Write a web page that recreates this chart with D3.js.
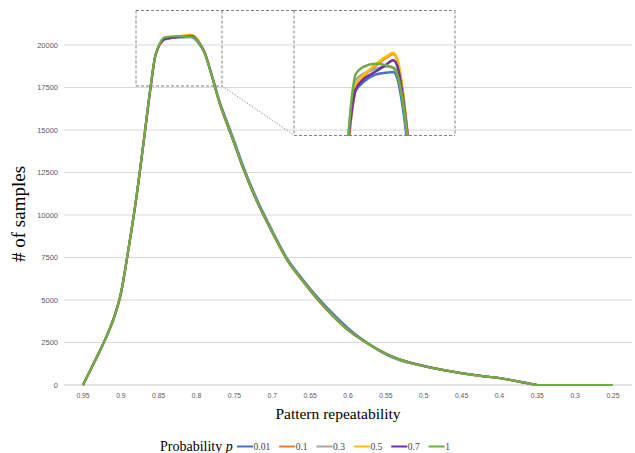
<!DOCTYPE html>
<html><head><meta charset="utf-8">
<script src="https://cdn.jsdelivr.net/npm/d3@7"></script>
<style>body{margin:0;background:#fff}svg{display:block}</style>
</head><body>
<svg id="c" width="635" height="453"></svg>
<script>
const xs = [0.95,0.94,0.93,0.92,0.91,0.90,0.89,0.88,0.87,0.86,0.855,0.85,0.846,0.843,0.835,0.825,0.815,0.808,0.804,0.800,0.796,0.79,0.78,0.77,0.76,0.75,0.74,0.72,0.70,0.68,0.66,0.64,0.62,0.60,0.58,0.56,0.54,0.52,0.50,0.48,0.46,0.44,0.42,0.40,0.38,0.36,0.35,0.30,0.25];
const p001 = [0,890,1790,2740,3830,5350,7950,10850,14250,17750,19250,19930,20210,20320,20390,20440,20455,20460,20410,20250,20020,19570,18250,16750,15520,14330,13070,10900,9080,7420,6230,5150,4200,3350,2650,2040,1590,1310,1110,925,765,625,505,405,245,78,0,0,0];
const p01  = [0,895,1795,2745,3840,5380,7970,10860,14260,17740,19240,19900,20180,20330,20430,20500,20560,20590,20540,20370,20110,19640,18220,16640,15380,14180,12930,10780,8980,7330,6130,5030,4060,3240,2610,2080,1645,1345,1120,935,770,630,510,410,250,80,0,0,0];
const p03  = [0,900,1800,2750,3845,5390,7990,10890,14290,17780,19280,19940,20270,20400,20450,20480,20500,20495,20450,20300,20070,19610,18210,16660,15410,14210,12960,10810,9010,7360,6160,5060,4090,3260,2625,2080,1640,1340,1120,930,770,630,510,410,250,80,0,0,0];
const p05  = [0,895,1790,2740,3835,5370,7960,10850,14250,17730,19230,19900,20200,20360,20440,20510,20570,20600,20550,20380,20120,19650,18230,16640,15370,14170,12920,10770,8970,7320,6120,5020,4050,3230,2605,2075,1640,1340,1115,930,768,628,508,408,248,79,0,0,0];
const p07  = [0,905,1805,2755,3855,5400,7990,10870,14270,17760,19260,19920,20200,20330,20410,20460,20510,20545,20500,20340,20100,19630,18220,16650,15390,14190,12940,10790,8990,7340,6140,5040,4070,3245,2615,2080,1645,1345,1125,935,772,632,512,412,252,81,0,0,0];
const p1   = [0,900,1800,2750,3850,5400,8000,10900,14300,17800,19300,19950,20300,20440,20500,20520,20510,20490,20440,20300,20080,19600,18200,16650,15400,14200,12950,10800,9000,7350,6150,5050,4080,3250,2620,2080,1640,1340,1120,930,770,630,510,410,250,80,0,0,0];
const seriesNames = ["0.01","0.1","0.3","0.5","0.7","1"];
const seriesValues = [p001,p01,p03,p05,p07,p1];
const colors = ["#4472C4","#ED7D31","#A5A5A5","#FFC000","#7030A0","#70AD47"];
const xTicks = [0.95,0.9,0.85,0.8,0.75,0.7,0.65,0.6,0.55,0.5,0.45,0.4,0.35,0.3,0.25];
const yTicks = [0,2500,5000,7500,10000,12500,15000,17500,20000];

const svg = d3.select("#c");
const x = d3.scaleLinear().domain([0.95,0.25]).range([83,613]);
const y = d3.scaleLinear().domain([0,20000]).range([385,45]);
const gridL = 64, gridR = 632;

svg.append("g").selectAll("line").data(yTicks).join("line")
  .attr("x1",gridL).attr("x2",gridR)
  .attr("y1",d=>y(d)).attr("y2",d=>y(d))
  .attr("stroke","#d9d9d9").attr("stroke-width",d=>d===0?1.5:1);

svg.append("g").selectAll("text").data(yTicks).join("text")
  .attr("x",58).attr("y",d=>y(d)+2.8).attr("text-anchor","end")
  .attr("font-family","Liberation Sans, Arial, sans-serif").attr("font-size",7.5)
  .attr("fill","#595959").text(d=>d);

svg.append("g").selectAll("text").data(xTicks).join("text")
  .attr("x",d=>x(d)).attr("y",397.5).attr("text-anchor","middle")
  .attr("font-family","Liberation Sans, Arial, sans-serif").attr("font-size",6.8)
  .attr("fill","#595959").text(d=>String(+d.toFixed(2)));

svg.append("text").attr("transform","translate(25,214) rotate(-90)")
  .attr("text-anchor","middle").attr("font-family","Liberation Serif, Times New Roman, serif")
  .attr("font-size",19).attr("fill","#000").text("# of samples");
svg.append("text").attr("x",338).attr("y",418.5).attr("text-anchor","middle")
  .attr("font-family","Liberation Serif, Times New Roman, serif")
  .attr("font-size",15.5).attr("fill","#000").text("Pattern repeatability");

const line = d3.line().x((d,i)=>x(xs[i])).y(d=>y(d)).curve(d3.curveMonotoneX);
svg.append("g").selectAll("path").data(seriesValues).join("path")
  .attr("d",d=>line(d)).attr("fill","none")
  .attr("stroke",(d,i)=>colors[i]).attr("stroke-width",2.2)
  .attr("stroke-linejoin","round");

function dl(x1,y1,x2,y2,da,col){
  svg.append("line").attr("x1",x1).attr("y1",y1).attr("x2",x2).attr("y2",y2)
    .attr("stroke",col||"#808080").attr("stroke-width",1).attr("stroke-dasharray",da||"3,2");
}
dl(136,10.5,294,10.5); dl(136,10.5,136,86); dl(136,86,222,86); dl(222,10.5,222,86);
dl(222,86,294,135,"1.5,1.5","#999");
const ix0=294, ix1=455, iy0=10.5, iy1=135.5;
const xi = d3.scaleLinear().domain([0.900,0.7506]).range([ix0,ix1]);
const yi = d3.scaleLinear().domain([20000,20906]).range([iy1,iy0]);
svg.append("clipPath").attr("id","ic").append("rect")
  .attr("x",ix0).attr("y",iy0).attr("width",ix1-ix0).attr("height",iy1-iy0);
const lineI = d3.line().x((d,i)=>xi(xs[i])).y(d=>yi(d)).curve(d3.curveMonotoneX);
svg.append("g").attr("clip-path","url(#ic)").selectAll("path").data(seriesValues).join("path")
  .attr("d",d=>lineI(d)).attr("fill","none")
  .attr("stroke",(d,i)=>colors[i]).attr("stroke-width",2.5);
dl(ix0,iy0,ix1,iy0); dl(ix1,iy0,ix1,iy1); dl(ix0,iy1,ix1,iy1); dl(ix0,iy0,ix0,iy1);

const lg = svg.append("g");
lg.append("text").attr("x",160).attr("y",451).attr("font-family","Liberation Serif, Times New Roman, serif")
  .attr("font-size",14).attr("fill","#000")
  .call(t=>{t.append("tspan").text("Probability "); t.append("tspan").attr("font-style","italic").text("p");});
let lx = 237;
seriesNames.forEach((n,i)=>{
  lg.append("line").attr("x1",lx).attr("x2",lx+16).attr("y1",446.5).attr("y2",446.5)
    .attr("stroke",colors[i]).attr("stroke-width",2);
  const t = lg.append("text").attr("x",lx+16.5).attr("y",450).attr("font-family","Liberation Serif, Times New Roman, serif")
    .attr("font-size",9.5).attr("fill","#404040").text(n);
  lx = lx + 16.5 + t.node().getComputedTextLength() + 9;
});
</script>
</body></html>
